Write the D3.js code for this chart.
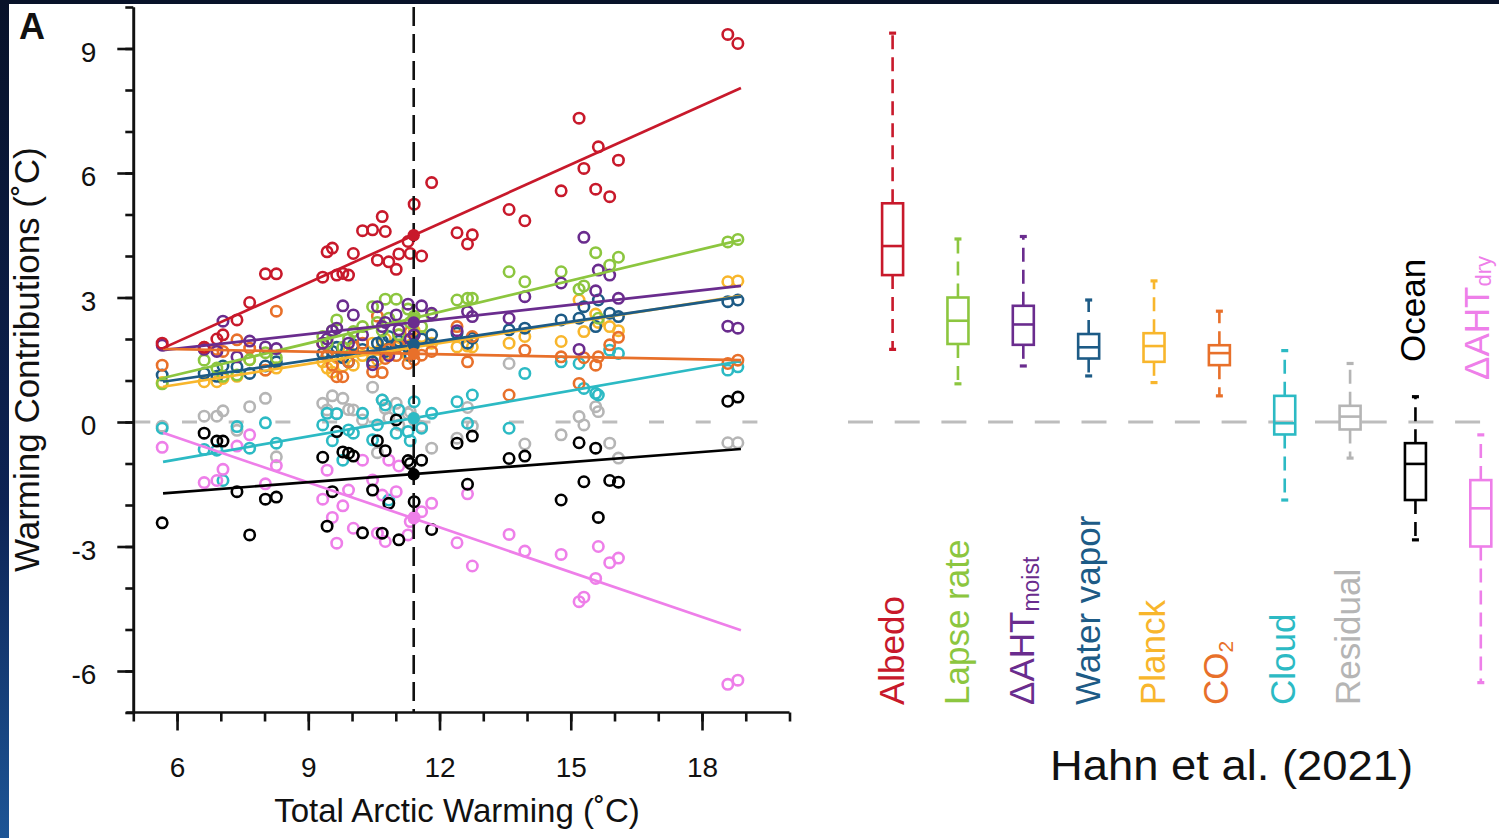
<!DOCTYPE html>
<html>
<head>
<meta charset="utf-8">
<script src="https://cdn.jsdelivr.net/npm/d3@7"></script>
<style>
  html, body { margin: 0; padding: 0; background: #0a1630; overflow: hidden; }
  svg text { font-family: "Liberation Sans", Arial, Helvetica, sans-serif; }
</style>
</head>
<body>
<svg id="chart" width="1499" height="838"></svg>
<script>
// ---- Data: warming contributions per model vs. total Arctic warming (°C) ----
const totalWarming = [5.66, 6.62, 6.91, 7.05, 7.37, 7.66, 8.02, 8.27,
  9.33, 9.43, 9.55, 9.65, 9.79, 9.92, 10.03, 10.24, 10.47, 10.58, 10.69, 10.76, 10.84, 11.01, 11.07, 11.28, 11.33, 11.42, 11.59, 11.82,
  12.40, 12.64, 12.75, 13.59, 13.95, 14.78, 15.19, 15.30, 15.57, 15.63, 15.89, 16.09, 18.59, 18.82];

const albedo = [1.90, 1.80, 2.00, 2.10, 2.46, 2.88, 3.57, 3.57,
  3.49, 4.10, 4.19, 3.54, 3.58, 3.54, 4.06, 4.61, 4.63, 3.90, 4.95, 4.59, 3.86, 3.68, 4.05, 4.35, 4.06, 5.25, 4.00, 5.77,
  4.56, 4.29, 4.51, 5.12, 4.85, 5.57, 7.32, 6.11, 5.61, 6.63, 5.43, 6.31, 9.34, 9.12];
const lapseRate = [0.92, 1.49, 1.30, 1.10, 1.13, 1.50, 1.67, 1.55,
  2.06, 1.90, 2.20, 2.46, 1.80, 2.00, 2.18, 2.30, 2.78, 2.40, 2.20, 2.96, 2.50, 2.96, 2.10, 2.72, 2.40, 2.55, 2.30, 2.58,
  2.94, 2.98, 2.98, 3.62, 3.38, 3.62, 3.20, 3.28, 4.08, 2.50, 3.78, 3.97, 4.34, 4.40];
const ahtMoist = [1.85, 1.75, 1.70, 2.43, 1.57, 1.95, 1.81, 1.77,
  1.90, 2.00, 2.20, 2.26, 2.80, 1.90, 2.58, 2.10, 1.38, 2.78, 2.30, 2.40, 1.60, 2.58, 2.22, 2.84, 2.00, 2.10, 2.80, 2.62,
  2.20, 2.66, 2.54, 2.50, 3.02, 3.35, 1.75, 4.45, 3.16, 3.66, 3.54, 2.98, 2.31, 2.26];
const waterVapor = [1.13, 1.17, 1.10, 1.35, 1.33, 1.17, 1.35, 1.45,
  1.65, 1.60, 1.70, 1.80, 1.55, 1.45, 1.86, 1.75, 1.45, 1.90, 1.95, 1.70, 2.06, 1.85, 1.95, 1.80, 1.60, 2.10, 2.00, 2.10,
  2.14, 1.90, 2.02, 2.22, 2.26, 2.46, 2.50, 2.78, 2.30, 2.94, 2.62, 2.54, 2.90, 2.94];
const planck = [0.95, 0.97, 0.97, 1.05, 1.10, 1.50, 1.25, 1.30,
  1.45, 1.30, 1.20, 1.55, 1.35, 1.70, 1.37, 1.60, 1.90, 1.50, 1.75, 2.00, 1.65, 1.80, 2.10, 1.60, 1.85, 2.20, 2.06, 1.90,
  1.81, 1.83, 1.81, 1.90, 2.06, 1.94, 2.94, 2.18, 2.60, 2.40, 2.30, 2.20, 3.38, 3.40];
const co2 = [1.37, 1.80, 1.75, 1.70, 1.98, 1.78, 1.25, 2.67,
  1.90, 1.60, 1.37, 1.09, 1.09, 1.45, 1.81, 1.90, 1.21, 2.55, 1.19, 1.53, 1.75, 1.60, 1.85, 1.41, 2.18, 1.50, 1.61, 1.70,
  2.30, 1.45, 2.06, 0.65, 1.73, 1.57, 0.93, 1.55, 1.37, 1.57, 1.86, 2.04, 1.41, 1.49];
const cloud = [-0.15, -0.66, -0.68, -1.41, -0.11, -0.63, -0.02, -0.51,
  -0.07, 0.21, -0.45, 0.20, -0.92, -0.19, -0.27, 0.21, -0.43, -0.07, 0.53, 0.41, -1.88, -0.27, 0.29, -0.23, -0.45, 0.49, -0.15, 0.21,
  0.49, -0.03, 0.65, -0.15, 1.17, 1.45, 1.41, 0.81, 0.69, 0.65, 1.73, 1.65, 1.25, 1.33];
const residual = [-0.10, 0.14, 0.14, 0.27, -0.20, 0.37, 0.57, -0.84,
  0.45, 0.29, 0.63, 0.20, 0.57, 0.30, 0.29, 0.05, 0.84, -0.74, 0.53, 0.33, 0.10, 0.45, -0.07, 0.20, 0.25, 0.05, -0.11, -0.63,
  -0.39, 0.35, -0.10, 1.41, -0.53, -0.31, 0.13, -0.07, 0.37, 0.25, -0.51, -0.87, -0.50, -0.50];
const ocean = [-2.43, -0.27, -0.46, -0.46, -1.68, -2.72, -1.86, -1.81,
  -0.85, -2.51, -1.68, -0.23, -0.72, -0.75, -0.82, -2.67, -1.64, -0.45, -2.68, -0.69, -1.96, 0.05, -2.84, -0.93, -1.00, -1.92, -0.92, -2.59,
  -0.51, -1.50, -0.34, -0.88, -0.82, -1.88, -0.50, -1.44, -0.63, -2.30, -1.41, -1.45, 0.50, 0.60];
const ahtDry = [-0.61, -1.46, -1.41, -1.14, -0.58, -0.31, -1.49, -1.05,
  -1.86, -1.16, -2.30, -2.92, -2.02, -1.64, -2.56, -0.92, -1.40, -2.68, -1.76, -2.88, -0.92, -1.68, -1.06, -2.72, -2.40, -2.30, -2.16, -1.96,
  -2.91, -1.73, -3.47, -2.71, -3.11, -3.19, -4.33, -4.22, -3.77, -3.00, -3.39, -3.28, -6.32, -6.22];

// Regression fits: value at the first and last fitted warming
const fitRange = [5.68, 18.89];
const fitStart = [1.78, 1.06, 1.73, 0.97, 0.85, 1.76, -0.96, null, -1.72, -0.26];
const fitEnd   = [8.05, 4.39, 3.28, 3.02, 3.04, 1.49, 1.47, null, -0.65, -5.02];

// Multi-model mean
const meanWarming = 11.41;
const meanContribution = [4.50, 2.50, 2.40, 1.86, 1.80, 1.64, 0.09, 0.10, -1.26, -2.32];

// Box-plot summary per term: min, lower quartile, median, upper quartile, max
const boxMin    = [1.75, 0.92, 1.35, 1.11, 0.95, 0.63, -1.88, -0.87, -2.84, -6.28];
const boxQ1     = [3.54, 1.88, 1.86, 1.53, 1.45, 1.37, -0.30, -0.18, -1.88, -3.00];
const boxMedian = [4.24, 2.44, 2.35, 1.80, 1.83, 1.66, -0.03, 0.13, -1.01, -2.08];
const boxQ3     = [5.27, 3.00, 2.80, 2.12, 2.14, 1.85, 0.63, 0.39, -0.51, -1.40];
const boxMax    = [9.37, 4.41, 4.47, 2.94, 3.40, 2.67, 1.72, 1.41, 0.61, -0.31];

// Term names (main text + subscript)
const termMain = ["Albedo", "Lapse rate", "ΔAHT", "Water vapor", "Planck", "CO", "Cloud", "Residual", "Ocean", "ΔAHT"];
const termSub  = ["", "", "moist", "", "", "2", "", "", "", "dry"];

const xTicksMajor = [6, 9, 12, 15, 18];
const yTicksMajor = [-6, -3, 0, 3, 6, 9];

// ---- Styling ----
const palette = ["#c8192b", "#8cc63f", "#6a2c8e", "#1d5b86", "#f8b62c", "#e8702a", "#2cbac4", "#b5b5b5", "#000000", "#ee7fe9"];
const terms = [albedo, lapseRate, ahtMoist, waterVapor, planck, co2, cloud, residual, ocean, ahtDry];
const drawOrder = [7, 6, 9, 8, 4, 3, 5, 1, 2, 0];
const lineOrder = [6, 9, 8, 4, 3, 1, 2, 5, 0];

const W = 1499, H = 838;
const svg = d3.select("#chart");

// backdrop and white sheet
const defs = svg.append("defs");
const grad = defs.append("linearGradient").attr("id", "edgeGlow")
  .attr("x1", 0).attr("y1", 0).attr("x2", 0).attr("y2", 1);
grad.append("stop").attr("offset", "0").attr("stop-color", "#081229");
grad.append("stop").attr("offset", "0.6").attr("stop-color", "#0d2354");
grad.append("stop").attr("offset", "1").attr("stop-color", "#1d5596");
svg.append("rect").attr("width", W).attr("height", H).attr("fill", "url(#edgeGlow)");
svg.append("rect").attr("x", 9).attr("y", 4).attr("width", W - 9).attr("height", H - 4).attr("fill", "#ffffff");

// ---- Scales ----
const x = d3.scaleLinear().domain([5, 20]).range([133.3, 789.5]);
const y = d3.scaleLinear().domain([-7, 10]).range([712.5, 7]);
const xb = d3.scalePoint().domain(d3.range(termMain.length)).range([892.6, 1480.8]);

// ---- Reference lines ----
svg.append("line")
  .attr("x1", x(5) + 2).attr("x2", x(20) - 2)
  .attr("y1", y(0)).attr("y2", y(0))
  .attr("stroke", "#bdbdbd").attr("stroke-width", 3).attr("stroke-dasharray", "15,31.7");

svg.append("line")
  .attr("x1", 848).attr("x2", W)
  .attr("y1", y(0)).attr("y2", y(0))
  .attr("stroke", "#bdbdbd").attr("stroke-width", 3).attr("stroke-dasharray", "25,21.7");

// ---- Scatter points ----
const pts = svg.append("g");
drawOrder.forEach(k => {
  pts.append("g").selectAll("circle")
    .data(totalWarming.map((w, i) => ({ w, v: terms[k][i] })))
    .join("circle")
    .attr("cx", d => x(d.w)).attr("cy", d => y(d.v)).attr("r", 5.2)
    .attr("fill", "none").attr("stroke", palette[k]).attr("stroke-width", 2.6);
});

// vertical line at the multi-model mean warming
svg.append("line")
  .attr("x1", x(meanWarming)).attr("x2", x(meanWarming))
  .attr("y1", y(10)).attr("y2", y(-7))
  .attr("stroke", "#111").attr("stroke-width", 2.6).attr("stroke-dasharray", "19,8");

// ---- Regression lines ----
lineOrder.forEach(k => {
  svg.append("line")
    .attr("x1", x(fitRange[0])).attr("y1", y(fitStart[k]))
    .attr("x2", x(fitRange[1])).attr("y2", y(fitEnd[k]))
    .attr("stroke", palette[k]).attr("stroke-width", 2.7);
});

// ---- Mean points ----
drawOrder.forEach(k => {
  svg.append("circle")
    .attr("cx", x(meanWarming)).attr("cy", y(meanContribution[k])).attr("r", 6.2)
    .attr("fill", palette[k]);
});

// ---- Axes ----
const axisColor = "#111";
const plainNum = d => String(d);
const gyMinor = svg.append("g").attr("transform", `translate(${x(5)},0)`)
  .call(d3.axisLeft(y).tickValues(d3.range(-7, 11)).tickSize(8).tickSizeOuter(0).tickFormat(""));
const gyMajor = svg.append("g").attr("transform", `translate(${x(5)},0)`)
  .call(d3.axisLeft(y).tickValues(yTicksMajor).tickSize(16).tickSizeOuter(0).tickPadding(21).tickFormat(plainNum));
const gxMinor = svg.append("g").attr("transform", `translate(0,${y(-7)})`)
  .call(d3.axisBottom(x).tickValues(d3.range(5, 21)).tickSize(9).tickSizeOuter(0).tickFormat(""));
const gxMajor = svg.append("g").attr("transform", `translate(0,${y(-7)})`)
  .call(d3.axisBottom(x).tickValues(xTicksMajor).tickSize(18).tickSizeOuter(0).tickFormat(plainNum));

[gyMinor, gyMajor, gxMinor, gxMajor].forEach(g => {
  g.selectAll("path.domain").attr("stroke", axisColor).attr("stroke-width", 2.6);
  g.selectAll(".tick line").attr("stroke", axisColor).attr("stroke-width", 2.6);
});
gxMajor.select("path.domain").remove();
gxMinor.select("path.domain").remove();
svg.append("line")
  .attr("x1", x(5) - 7).attr("x2", x(20))
  .attr("y1", y(-7)).attr("y2", y(-7))
  .attr("stroke", axisColor).attr("stroke-width", 2.6);

gyMajor.selectAll("text")
  .attr("font-size", 28).attr("fill", "#111").attr("dy", "0.45em")
  .attr("font-family", "Liberation Sans, Arial, sans-serif");
gxMajor.selectAll("text")
  .attr("font-size", 28).attr("fill", "#111").attr("y", 64.5).attr("dy", 0)
  .attr("font-family", "Liberation Sans, Arial, sans-serif");

// axis titles
svg.append("text")
  .attr("transform", `translate(39,${(y(-7) + y(10)) / 2})rotate(-90)`)
  .attr("text-anchor", "middle").attr("font-size", 35).attr("fill", "#111")
  .text("Warming Contributions (˚C)");
svg.append("text")
  .attr("x", 457).attr("y", 822).attr("text-anchor", "middle")
  .attr("font-size", 33).attr("fill", "#111")
  .text("Total Arctic Warming (˚C)");

svg.append("text")
  .attr("x", 19).attr("y", 39).attr("font-size", 36).attr("font-weight", "bold").attr("fill", "#111")
  .text("A");

// ---- Box plots ----
const boxes = svg.append("g");
termMain.forEach((_, i) => {
  const cx = xb(i), c = palette[i], hw = 10.5;
  const g = boxes.append("g");
  g.append("line").attr("x1", cx).attr("x2", cx).attr("y1", y(boxQ3[i])).attr("y2", y(boxMax[i]))
    .attr("stroke", c).attr("stroke-width", 2.6).attr("stroke-dasharray", "14,8");
  g.append("line").attr("x1", cx).attr("x2", cx).attr("y1", y(boxQ1[i])).attr("y2", y(boxMin[i]))
    .attr("stroke", c).attr("stroke-width", 2.6).attr("stroke-dasharray", "14,8");
  [boxMin[i], boxMax[i]].forEach(v => {
    g.append("line").attr("x1", cx - 3.5).attr("x2", cx + 3.5).attr("y1", y(v)).attr("y2", y(v))
      .attr("stroke", c).attr("stroke-width", 3.2);
  });
  g.append("rect").attr("x", cx - hw).attr("width", 2 * hw)
    .attr("y", y(boxQ3[i])).attr("height", y(boxQ1[i]) - y(boxQ3[i]))
    .attr("fill", "none").attr("stroke", c).attr("stroke-width", 2.6);
  g.append("line").attr("x1", cx - hw).attr("x2", cx + hw).attr("y1", y(boxMedian[i])).attr("y2", y(boxMedian[i]))
    .attr("stroke", c).attr("stroke-width", 2.6);
});

// term labels, rotated; the last two sit above their boxes
const labelBase = [705, 705, 705, 705, 705, 705, 705, 705, 362, 380];
const labelShift = [11, 11, 11, 11, 11, 9, 10, 10, 10, 8];
termMain.forEach((t, i) => {
  const txt = svg.append("text")
    .attr("transform", `translate(${xb(i) + labelShift[i]},${labelBase[i]})rotate(-90)`)
    .attr("font-size", 35).attr("fill", palette[i]);
  txt.append("tspan").text(t);
  if (termSub[i]) {
    const small = termSub[i] === "2" ? 21 : (termSub[i] === "dry" ? 22 : 23);
    const drop = termSub[i] === "dry" ? 2 : 5;
    txt.append("tspan").attr("font-size", small).attr("dy", drop).text(termSub[i]);
  }
});

// citation
svg.append("text")
  .attr("x", 1050).attr("y", 780)
  .attr("font-family", "Lato, 'Open Sans', sans-serif").attr("font-size", 43).attr("fill", "#111")
  .attr("textLength", 363).attr("lengthAdjust", "spacingAndGlyphs")
  .text("Hahn et al. (2021)");
</script>
</body>
</html>
